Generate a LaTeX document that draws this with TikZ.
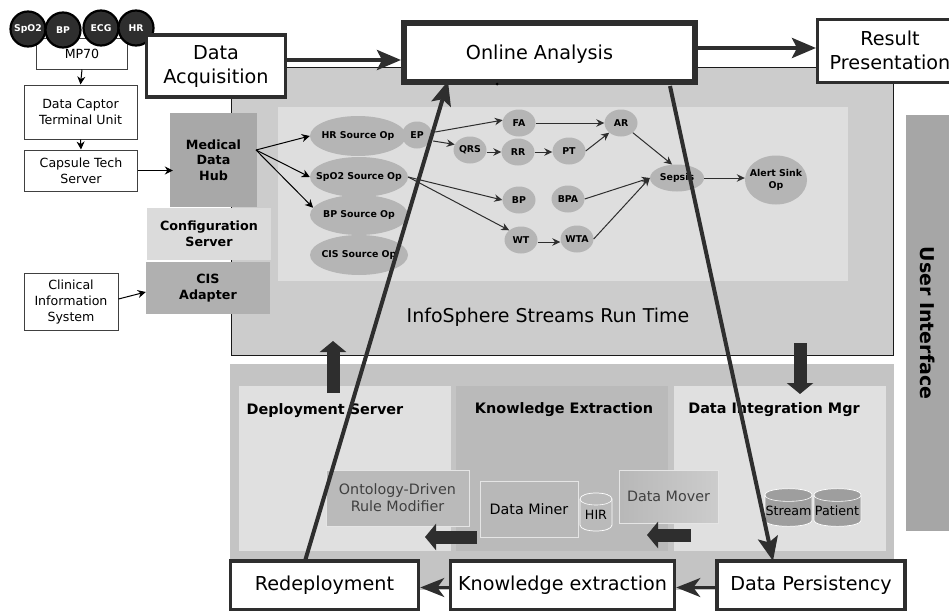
\documentclass[tikz,border=0pt]{standalone}
\usepackage{fontspec}
\setmainfont{DejaVu Sans}
\usetikzlibrary{arrows.meta,shapes.geometric}
\definecolor{dk}{HTML}{2E2E2E}
\newcommand{\dbcan}[6]{% x1,x2,ytop,ybot,k,fill
  \draw[draw=white,line width=.7pt,fill=#6] (#1,#3) -- (#1,#4) .. controls (#1,#4+#5) and (#2,#4+#5) .. (#2,#4) -- (#2,#3) .. controls (#2,#3-#5) and (#1,#3-#5) .. (#1,#3) -- cycle;
  \draw[draw=white,line width=.6pt] (#1,#3) .. controls (#1,#3+#5) and (#2,#3+#5) .. (#2,#3);
}
\newcommand{\ctr}[1]{\makebox[0pt][c]{#1}}
\tikzset{
 x=1pt,y=-1pt,
 panel/.style={draw=none,inner sep=0,anchor=north west},
 thinbox/.style={draw=black!75,line width=1pt,fill=white,align=center,font=\fontsize{12.6}{15.7}\selectfont,inner sep=0,anchor=center},
 bigbox/.style={draw=dk,fill=white,align=center,inner sep=0,anchor=center,font=\fontsize{19.2}{24}\selectfont},
 sensor/.style={circle,draw=black,line width=2.2pt,fill=dk,text=white,font=\bfseries\fontsize{9.3}{10}\selectfont,minimum size=35pt,inner sep=0},
 op/.style={ellipse,draw=none,fill=black!29,inner sep=0,align=center,font=\bfseries\fontsize{9.4}{12}\selectfont},
 srv/.style={draw=none,inner sep=0,align=center,font=\bfseries\fontsize{12.7}{15.7}\selectfont},
 inbox/.style={draw=white!90!black,line width=.8pt,fill=black!28,inner sep=0,align=center,font=\fontsize{14.3}{17}\selectfont},
 thinar/.style={-{Stealth[length=8pt,width=8pt]},line width=1pt,draw=black},
 opar/.style={-{Stealth[length=8pt,width=7.5pt]},line width=1pt,draw=dk},
 flow/.style={draw=dk,line width=4pt,-{Stealth[length=24pt,width=20pt,inset=5pt]}},
 short/.style={draw=dk,line width=3pt,-{Stealth[length=24pt,width=19pt,inset=7pt]}},
 block/.style={draw=dk,line width=13pt,-{Triangle[length=11pt,width=26pt]}},
 ztitle/.style={font=\bfseries\fontsize{14.4}{16}\selectfont,inner sep=0},
 dblabel/.style={font=\fontsize{12.7}{14}\selectfont,inner sep=0},
}
\begin{document}
\begin{tikzpicture}
\useasboundingbox (0,0) rectangle (949,610);
\clip (0,0) rectangle (949,610);
% panels
\node[panel,fill=black!20,draw=black!90,line width=.9pt,minimum width=662pt,minimum height=288pt] (rt) at (231,67) {};
\node[panel,fill=black!13,minimum width=570pt,minimum height=174pt] (inner) at (278,107) {};
\node[font=\fontsize{19}{22}\selectfont] (rtl) at (548,317) {InfoSphere Streams Run Time};
\node[panel,fill=black!23,minimum width=664pt,minimum height=226pt] (low) at (230,364) {};
\node[panel,fill=black!12,minimum width=212pt,minimum height=165pt] (dep) at (239,386) {};
\node[panel,fill=black!27,minimum width=212pt,minimum height=165pt] (kex) at (456,386) {};
\node[panel,fill=black!12,minimum width=212pt,minimum height=165pt] (dim) at (674,386) {};
\node[ztitle] (dept) at (325,411) {Deployment Server};
\node[ztitle] (kext) at (564,410) {Knowledge Extraction};
\node[ztitle] (dimt) at (774,410) {Data Integration Mgr};
\node[panel,fill=black!35,minimum width=43pt,minimum height=416pt] (ui) at (906,115) {};
\node[rotate=-90,font=\bfseries\fontsize{19}{22}\selectfont] (uil) at (928,323) {User Interface};
% services
\node[srv,fill=black!34,minimum width=87pt,minimum height=94pt] (hub) at (213.5,160) {Medical\\Data\\Hub};
\node[srv,fill=black!14,minimum width=124pt,minimum height=52pt] (conf) at (209,234) {Configuration\\Server};
\node[srv,fill=black!31,minimum width=124pt,minimum height=52pt] (cis) at (208,288) {CIS\\Adapter};
% left chain
\node[thinbox,minimum width=91pt,minimum height=30pt] (mp) at (82,54) {MP70};
\node[thinbox,minimum width=113pt,minimum height=54pt] (cap) at (80.5,112) {Data Captor\\Terminal Unit};
\node[thinbox,minimum width=113pt,minimum height=41pt] (cts) at (81,170.5) {Capsule Tech\\Server};
\node[thinbox,minimum width=94pt,minimum height=57pt] (clin) at (71,302) {Clinical\\Information\\System};
\node[sensor] (s1) at (28,29) {SpO2};
\node[sensor] (s2) at (63,30) {BP};
\node[sensor] (s3) at (101,28) {ECG};
\node[sensor] (s4) at (136,28) {HR};
\draw[thinar] (mp.south) -- (cap.north);
\draw[thinar] (cap.south) -- (cts.north);
\draw[thinar,shorten >=-3pt] (cts.east) -- (cts.east -| hub.west);
\draw[thinar] ([yshift=3pt]clin.east) -- ([yshift=-4pt]cis.west);
% operators
\node[op,minimum width=96pt,minimum height=40pt] (hr) at (358,136) {\ctr{HR Source Op}};
\node[op,minimum width=30pt,minimum height=27pt] (ep) at (417,135) {\ctr{EP}};
\node[op,minimum width=98pt,minimum height=40pt] (spo) at (359,177) {\ctr{SpO2 Source Op}};
\node[op,minimum width=98pt,minimum height=40pt] (bps) at (359,215) {\ctr{BP Source Op}};
\node[op,minimum width=98pt,minimum height=40pt] (cs) at (359,255) {\ctr{CIS Source Op}};
\node[op,minimum width=33pt,minimum height=27pt] (fa) at (519,123) {\ctr{FA}};
\node[op,minimum width=33pt,minimum height=27pt] (qrs) at (470,150) {\ctr{QRS}};
\node[op,minimum width=33pt,minimum height=27pt] (rr) at (518,152) {\ctr{RR}};
\node[op,minimum width=33pt,minimum height=27pt] (pt) at (569,151) {\ctr{PT}};
\node[op,minimum width=33pt,minimum height=27pt] (bp) at (519,200) {\ctr{BP}};
\node[op,minimum width=33pt,minimum height=27pt] (bpa) at (568,199) {\ctr{BPA}};
\node[op,minimum width=33pt,minimum height=27pt] (wt) at (521,240) {\ctr{WT}};
\node[op,minimum width=33pt,minimum height=27pt] (wta) at (577,239) {\ctr{WTA}};
\node[op,minimum width=33pt,minimum height=27pt] (ar) at (621,123) {\ctr{AR}};
\node[op,minimum width=54pt,minimum height=27pt] (sep) at (677,178) {\ctr{Sepsis}};
\node[op,minimum width=62pt,minimum height=49pt] (al) at (776,180) {\ctr{Alert Sink}\\\ctr{Op}};
\coordinate (hubr) at (256,150);
\draw[thinar] (hubr) -- (hr.west);
\draw[thinar] (hubr) -- (spo.west);
\draw[thinar] (hubr) -- (bps.171);
\draw[opar] ([shift={(3pt,3pt)}]ep.east) -- (fa.170);
\draw[opar] ([shift={(1pt,-6pt)}]ep.east) -- (qrs.160);
\draw[opar] (fa.east) -- (ar.west);
\draw[opar] (qrs.east |- rr.west) -- (rr.west);
\draw[opar] (rr.east) -- (rr.east -| pt.west);
\draw[opar] (pt.east) -- (ar.south west);
\draw[opar] (spo.east) -- (bp.west);
\draw[opar] (spo.east) -- (wt.north west);
\draw[opar] ([yshift=-2pt]wt.east) -- ([yshift=-2pt]wt.east -| wta.west);
\draw[opar] (ar.south east) -- (sep.110);
\draw[opar] (bpa.east) -- (sep.west);
\draw[opar] (wta.east) -- (sep.west);
\draw[opar] (sep.east) -- (sep.east -| al.west);
% inner boxes
\node[inbox,minimum width=143pt,minimum height=56pt,text=black!75,fill=black!27] (ont) at (397.5,498) {Ontology-Driven\\Rule Modifier};
\node[inbox,minimum width=98pt,minimum height=56pt] (dm) at (529,509) {Data Miner};
\dbcan{580}{612}{499}{525}{8}{black!27}
\node[dblabel] (hirl) at (596,515) {HIR};
\node[inbox,minimum width=99pt,minimum height=53pt,text=black!75,left color=black!28,right color=black!20] (mov) at (668.5,496.5) {Data Mover};
\dbcan{765}{812}{495}{520}{8.5}{black!38}
\node[dblabel] (stl) at (788.5,511) {Stream};
\dbcan{814}{861}{495}{520}{8.5}{black!38}
\node[dblabel] (pal) at (837,511) {Patient};
% process boxes
\node[bigbox,line width=3.6pt,minimum width=139pt,minimum height=62pt] (acq) at (216,66) {Data\\Acquisition};
\node[bigbox,line width=6pt,minimum width=291pt,minimum height=59pt] (onl) at (549.5,52.5) {\raisebox{-7pt}[0pt][0pt]{Online Analysis}\hspace*{20pt}};
\node[bigbox,line width=3pt,minimum width=145pt,minimum height=63pt] (res) at (890,51) {\raisebox{2pt}{Result}\\\raisebox{2pt}{Presentation}};
\node[bigbox,line width=3.6pt,minimum width=188pt,minimum height=49pt] (red) at (324.5,585.5) {Redeployment};
\node[bigbox,line width=3.6pt,minimum width=224pt,minimum height=49pt] (kn) at (562.5,585.5) {Knowledge extraction};
\node[bigbox,line width=3.6pt,minimum width=188pt,minimum height=49pt] (dp) at (811,585.5) {Data Persistency};
% flow connectors
\draw[flow] ([yshift=6pt]acq.east) -- ([yshift=6pt]acq.east -| onl.west);
\draw[flow] ([yshift=4.5pt]onl.east) -- ([yshift=4.5pt]onl.east -| res.west);
\draw[short] ([yshift=-2pt]dp.west) -- ([yshift=-2pt]dp.west -| kn.east);
\draw[short] ([yshift=-2pt]kn.west) -- ([yshift=-2pt]kn.west -| red.east);
\coordinate (o1) at (305,561);
\coordinate (o2) at (448,81);
\coordinate (o3) at (670,86);
\coordinate (o4) at (773,561);
\draw[flow] (o1) -- (o2);
\draw[flow] (o3) -- (o4);
\node[circle,fill=black,inner sep=0,minimum size=3pt] (dot) at (497,84) {};
% block arrows
\coordinate (b1) at (333,393);\coordinate (b1t) at (333,341);
\coordinate (b2) at (800,343);\coordinate (b2t) at (800,394);
\coordinate (b3) at (477,537);\coordinate (b3t) at (425,537);
\coordinate (b4) at (691,535);\coordinate (b4t) at (647,535);
\draw[block] (b1) -- (b1t);
\draw[block] (b2) -- (b2t);
\draw[block] (b3) -- (b3t);
\draw[block] (b4) -- (b4t);
\end{tikzpicture}
\end{document}
